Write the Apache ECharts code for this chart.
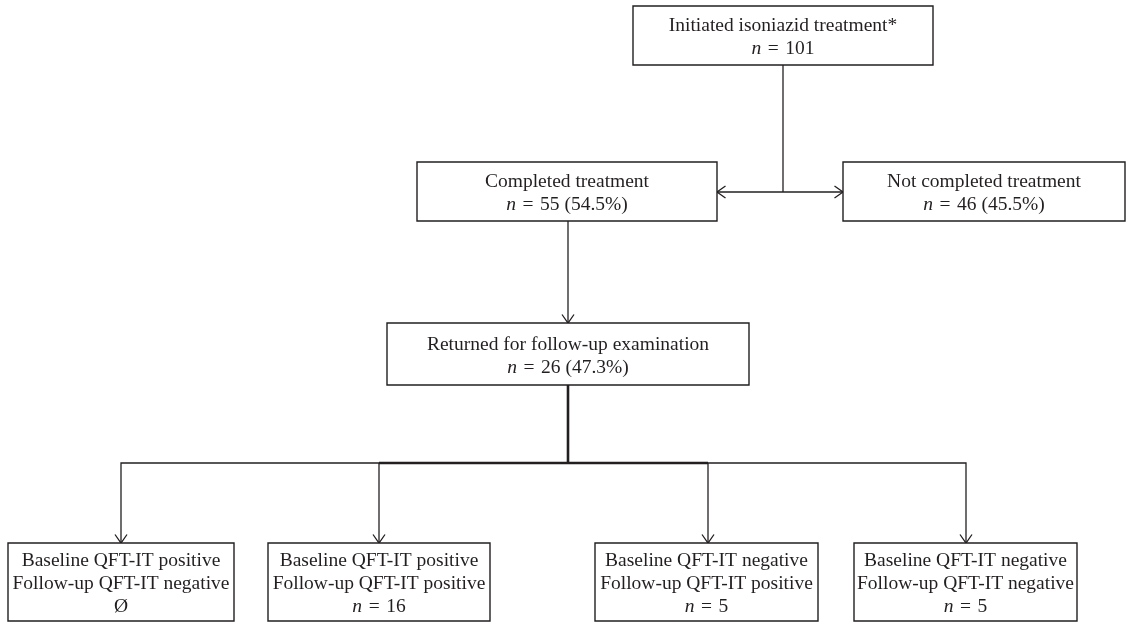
<!DOCTYPE html>
<html>
<head>
<meta charset="utf-8">
<script src="https://cdn.jsdelivr.net/npm/echarts@6/dist/echarts.min.js"></script>
<style>
  html, body { margin: 0; padding: 0; background: #fff; }
  #chart { width: 1137px; height: 623px; }
</style>
</head>
<body>
<div id="chart"></div>
<script>
// flow stages (text), counts and percentages
const stages = [
  'Initiated isoniazid treatment*',
  'Completed treatment',
  'Not completed treatment',
  'Returned for follow-up examination',
  'Baseline QFT-IT positive\nFollow-up QFT-IT negative',
  'Baseline QFT-IT positive\nFollow-up QFT-IT positive',
  'Baseline QFT-IT negative\nFollow-up QFT-IT positive',
  'Baseline QFT-IT negative\nFollow-up QFT-IT negative'
]
const counts = [101, 55, 46, 26, null, 16, 5, 5]
const percents = [null, 54.5, 45.5, 47.3, null, null, null, null]

// box layout in diagram units [x0, y0, x1, y1]
const boxes = [
  [633, 6, 933, 65],
  [417, 162, 717, 221],
  [843, 162, 1125, 221],
  [387, 323, 749, 385],
  [8, 543, 234, 621],
  [268, 543, 490, 621],
  [595, 543, 818, 621],
  [854, 543, 1077, 621]
]

// connectors: points, arrow at end, thick
const links = [
  { pts: [[783, 65], [783, 192]] },
  { pts: [[783, 192], [717, 192]], arrow: true },
  { pts: [[783, 192], [843, 192]], arrow: true },
  { pts: [[568, 221], [568, 323]], arrow: true },
  { pts: [[568, 385], [568, 463]], thick: true },
  { pts: [[379, 463], [708, 463]], thick: true },
  { pts: [[379, 463], [121, 463], [121, 543]], arrow: true },
  { pts: [[379, 463], [379, 543]], arrow: true },
  { pts: [[708, 463], [708, 543]], arrow: true },
  { pts: [[708, 463], [966, 463], [966, 543]], arrow: true }
]

const ink = '#231f20'
const font = '"Liberation Serif", "DejaVu Serif", serif'
const sp = '\u2004'

const boxText = (i) => {
  let last
  if (counts[i] == null) last = 'Ø'
  else if (percents[i] == null) last = '{i|n}' + sp + '=' + sp + counts[i]
  else last = '{i|n}' + sp + '=' + sp + counts[i] + ' (' + percents[i].toFixed(1) + '%)'
  return stages[i] + '\n' + last
}

const chart = echarts.init(document.getElementById('chart'))

chart.setOption({
  animation: false,
  grid: { left: 0, right: 0, top: 0, bottom: 0 },
  xAxis: { type: 'value', min: 0, max: 1137, show: false },
  yAxis: { type: 'value', min: 0, max: 623, inverse: true, show: false },
  series: [
    {
      type: 'custom',
      data: links.map((l, i) => [i]),
      renderItem: (params, api) => {
        const link = links[params.dataIndex]
        const pts = link.pts.map((p) => api.coord(p))
        const children = [
          {
            type: 'polyline',
            shape: { points: pts },
            style: { stroke: ink, lineWidth: link.thick ? 2.6 : 1.3, fill: null }
          }
        ]
        if (link.arrow) {
          const a = pts[pts.length - 1]
          const b = pts[pts.length - 2]
          const len = Math.hypot(a[0] - b[0], a[1] - b[1])
          const ux = (a[0] - b[0]) / len
          const uy = (a[1] - b[1]) / len
          const hl = 8.5, hw = 6
          children.push({
            type: 'polyline',
            shape: {
              points: [
                [a[0] - ux * hl - uy * hw, a[1] - uy * hl + ux * hw],
                a,
                [a[0] - ux * hl + uy * hw, a[1] - uy * hl - ux * hw]
              ]
            },
            style: { stroke: ink, lineWidth: 1.3, fill: null }
          })
        }
        return { type: 'group', children }
      }
    },
    {
      type: 'custom',
      data: boxes,
      renderItem: (params, api) => {
        const p0 = api.coord([api.value(0), api.value(1)])
        const p1 = api.coord([api.value(2), api.value(3)])
        return {
          type: 'group',
          children: [
            {
              type: 'rect',
              shape: { x: p0[0], y: p0[1], width: p1[0] - p0[0], height: p1[1] - p0[1] },
              style: { fill: '#fff', stroke: ink, lineWidth: 1.4 }
            },
            {
              type: 'text',
              x: (p0[0] + p1[0]) / 2,
              y: (p0[1] + p1[1]) / 2 + 2,
              style: {
                text: boxText(params.dataIndex),
                fill: ink,
                fontFamily: font,
                fontSize: 19.5,
                lineHeight: 23,
                align: 'center',
                verticalAlign: 'middle',
                rich: {
                  i: { fontStyle: 'italic', fontFamily: font, fontSize: 19.5, lineHeight: 23, fill: ink }
                }
              }
            }
          ]
        }
      }
    }
  ]
})
</script>
</body>
</html>
